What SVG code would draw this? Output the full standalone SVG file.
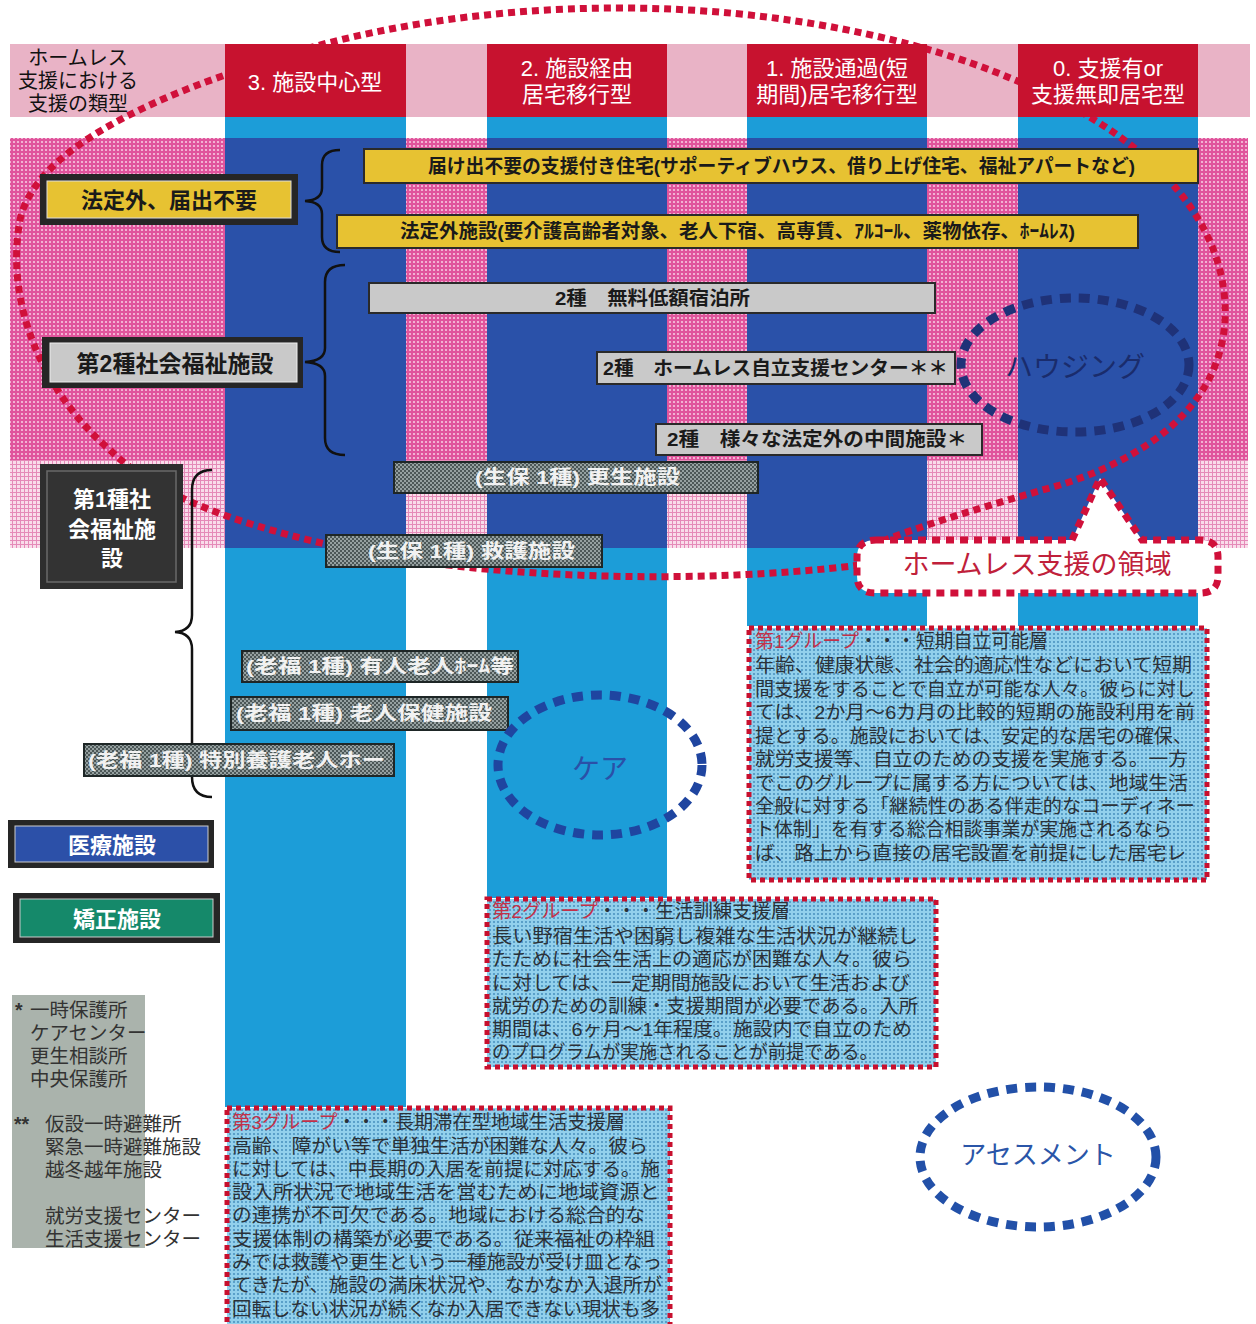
<svg xmlns="http://www.w3.org/2000/svg" width="1256" height="1324" viewBox="0 0 1256 1324">
<defs>
<pattern id="pinkDots" width="4" height="4" patternUnits="userSpaceOnUse"><rect width="4" height="4" fill="#e0549c"/><circle cx="2" cy="2" r="1.1" fill="#f7c8e0"/></pattern>
<pattern id="pinkGrid" width="4" height="4" patternUnits="userSpaceOnUse"><rect width="4" height="4" fill="#f9dcea"/><path d="M0 .5H4M.5 0V4" stroke="#e58ab8" stroke-width="1"/></pattern>
<pattern id="checker" width="4" height="4" patternUnits="userSpaceOnUse"><rect width="4" height="4" fill="#4c5757"/><rect width="2" height="2" fill="#95a0a0"/><rect x="2" y="2" width="2" height="2" fill="#95a0a0"/></pattern>
<pattern id="boxDots" width="4" height="4" patternUnits="userSpaceOnUse"><rect width="4" height="4" fill="#92d0ec"/><circle cx="2" cy="2" r="0.9" fill="#3f88b8"/></pattern>
<style>
text{font-family:"Liberation Sans","Noto Sans CJK JP",sans-serif}
.hdr{fill:#fff;font-size:22px;text-anchor:middle}
.barY{fill:#e7c232;stroke:#2a2a2a;stroke-width:2}
.barG{fill:#c9c9c9;stroke:#2a2a2a;stroke-width:2}
.barD{fill:url(#checker);stroke:#1e2626;stroke-width:2}
.tb{font-weight:700;font-size:19px;fill:#1a1a1a}
.tw{font-weight:700;font-size:19px;fill:#f2f2f2}
.brace{fill:none;stroke:#111;stroke-width:2.5}
.frame{fill:#262626}
.gbox{fill:url(#boxDots);stroke:#c8102e;stroke-width:5;stroke-dasharray:5 4}
.gt{font-size:19px;fill:#2a3138}
.red{fill:#c23048}
.note{font-size:19.5px;fill:#333}
.bell{fill:none;stroke-width:9;stroke-dasharray:11 8}
.loop{fill:none;stroke:#d0103a;stroke-width:7;stroke-dasharray:7 5}
</style>
</defs>
<rect width="1256" height="1324" fill="#fff"/>

<g id="background">
<rect x="10" y="44" width="1240" height="73" fill="#e9b3c6"/>
<rect x="10" y="138" width="1238" height="322" fill="url(#pinkDots)"/>
<rect x="10" y="460" width="1238" height="88" fill="url(#pinkGrid)"/>
<rect x="225" y="117" width="181" height="990" fill="#1c9dd8"/>
<rect x="487" y="117" width="180" height="781" fill="#1c9dd8"/>
<rect x="747" y="117" width="180" height="509" fill="#1c9dd8"/>
<rect x="1018" y="117" width="180" height="509" fill="#1c9dd8"/>
<rect x="225" y="138" width="181" height="410" fill="#2a51a9"/>
<rect x="487" y="138" width="180" height="410" fill="#2a51a9"/>
<rect x="747" y="138" width="180" height="410" fill="#2a51a9"/>
<rect x="1018" y="138" width="180" height="410" fill="#2a51a9"/>
</g>

<g id="connectors">
<path class="loop" d="M860,565 C700,585 480,580 330,545 C220,520 150,490 110,450 C40,390 5,300 20,220 C35,150 150,100 240,70 C350,30 480,8 620,8 C780,8 920,40 1010,78 C1130,125 1230,210 1225,320 C1220,410 1140,460 1060,485 C990,505 920,525 860,550"/>
<path class="brace" d="M340,150 Q322,150 322,165 L322,188 Q322,200 305,201 Q322,202 322,214 L322,237 Q322,252 340,252"/>
<path class="brace" d="M345,265 Q325,265 325,282 L325,348 Q325,361 305,362 Q325,363 325,376 L325,438 Q325,455 345,455"/>
<path class="brace" d="M212,470 Q192,470 192,490 L192,615 Q192,631 175,632 Q192,633 192,649 L192,777 Q192,797 212,797"/>
</g>

<g id="header-title">
<text x="78" y="65" font-size="20" text-anchor="middle" fill="#111">ホームレス</text>
<text x="78" y="88" font-size="20" text-anchor="middle" fill="#111">支援における</text>
<text x="78" y="111" font-size="20" text-anchor="middle" fill="#111">支援の類型</text>
</g>
<g id="type3"><rect x="225" y="44" width="181" height="73" fill="#c7122f"/><text class="hdr" x="315" y="90">3. 施設中心型</text></g>
<g id="type2"><rect x="487" y="44" width="180" height="73" fill="#c7122f"/><text class="hdr" x="577" y="76">2. 施設経由</text><text class="hdr" x="577" y="102">居宅移行型</text></g>
<g id="type1"><rect x="747" y="44" width="180" height="73" fill="#c7122f"/><text class="hdr" x="837" y="76">1. 施設通過(短</text><text class="hdr" x="837" y="102">期間)居宅移行型</text></g>
<g id="type0"><rect x="1018" y="44" width="180" height="73" fill="#c7122f"/><text class="hdr" x="1108" y="76">0. 支援有or</text><text class="hdr" x="1108" y="102">支援無即居宅型</text></g>

<g id="label-hotei"><rect class="frame" x="40" y="174" width="258" height="51"/><rect x="47" y="181" width="244" height="37" fill="#e7c232" stroke="#ddd" stroke-width="1"/><text x="169" y="208" font-size="22" font-weight="700" text-anchor="middle" fill="#1a1a1a">法定外、届出不要</text></g>
<g id="label-2shu"><rect class="frame" x="42" y="337" width="261" height="51"/><rect x="50" y="343" width="247" height="39" fill="#c9c9c9" stroke="#eee" stroke-width="1"/><text x="175" y="372" font-size="23" font-weight="700" text-anchor="middle" fill="#1a1a1a">第2種社会福祉施設</text></g>
<g id="label-1shu"><rect x="40" y="464" width="143" height="125" fill="#2e2e2e"/><rect x="47" y="471" width="129" height="111" fill="#333" stroke="#6a6a6a" stroke-width="1.5"/><text x="112" y="507" font-size="22" font-weight="700" text-anchor="middle" fill="#fff">第1種社</text><text x="112" y="537" font-size="22" font-weight="700" text-anchor="middle" fill="#fff">会福祉施</text><text x="112" y="566" font-size="22" font-weight="700" text-anchor="middle" fill="#fff">設</text></g>

<g id="bar-todokede"><rect class="barY" x="364" y="149" width="834" height="34"/><text class="tb" x="428" y="173" textLength="707" lengthAdjust="spacingAndGlyphs">届け出不要の支援付き住宅(サポーティブハウス、借り上げ住宅、福祉アパートなど)</text></g>
<g id="bar-hoteigai"><rect class="barY" x="337" y="215" width="801" height="33"/><text class="tb" x="400" y="238" textLength="675" lengthAdjust="spacingAndGlyphs">法定外施設(要介護高齢者対象、老人下宿、高専賃、ｱﾙｺｰﾙ、薬物依存、ﾎｰﾑﾚｽ)</text></g>
<g id="bar-muryo"><rect class="barG" x="369" y="283" width="566" height="30"/><text class="tb" x="555" y="305" textLength="195" lengthAdjust="spacingAndGlyphs">2種　無料低額宿泊所</text></g>
<g id="bar-jiritsu"><rect class="barG" x="597" y="352" width="358" height="32"/><text class="tb" x="603" y="375" textLength="345" lengthAdjust="spacingAndGlyphs">2種　ホームレス自立支援センター＊＊</text></g>
<g id="bar-chukan"><rect class="barG" x="656" y="424" width="326" height="31"/><text class="tb" x="667" y="446" textLength="300" lengthAdjust="spacingAndGlyphs">2種　様々な法定外の中間施設＊</text></g>
<g id="bar-kosei"><rect class="barD" x="394" y="462" width="364" height="31"/><text class="tw" x="475" y="484" textLength="205" lengthAdjust="spacingAndGlyphs">(生保 1種) 更生施設</text></g>
<g id="bar-kyugo"><rect class="barD" x="326" y="535" width="276" height="32"/><text class="tw" x="368" y="558" textLength="207" lengthAdjust="spacingAndGlyphs">(生保 1種) 救護施設</text></g>
<g id="bar-yujin"><rect class="barD" x="242" y="651" width="276" height="31"/><text class="tw" x="246" y="673" textLength="268" lengthAdjust="spacingAndGlyphs">(老福 1種) 有人老人ﾎｰﾑ等</text></g>
<g id="bar-hoken"><rect class="barD" x="231" y="697" width="277" height="33"/><text class="tw" x="236" y="720" textLength="256" lengthAdjust="spacingAndGlyphs">(老福 1種) 老人保健施設</text></g>
<g id="bar-tokuyo"><rect class="barD" x="84" y="744" width="310" height="32"/><text class="tw" x="88" y="767" textLength="297" lengthAdjust="spacingAndGlyphs">(老福 1種) 特別養護老人ホー</text></g>

<g id="label-iryo"><rect class="frame" x="8" y="820" width="206" height="48"/><rect x="15" y="826" width="193" height="36" fill="#2c50a8" stroke="#ccc" stroke-width="1"/><text x="112" y="853" font-size="22" font-weight="700" text-anchor="middle" fill="#fff">医療施設</text></g>
<g id="label-kyosei"><rect class="frame" x="13" y="893" width="207" height="50"/><rect x="20" y="899" width="193" height="38" fill="#15896a" stroke="#ccc" stroke-width="1"/><text x="117" y="927" font-size="22" font-weight="700" text-anchor="middle" fill="#fff">矯正施設</text></g>

<g id="notes">
<rect x="12" y="995" width="133" height="253" fill="#aab3ac"/>
<text class="note" x="15" y="1017" font-weight="700">*</text>
<text class="note" x="30" y="1017">一時保護所</text>
<text class="note" x="30" y="1040">ケアセンター</text>
<text class="note" x="30" y="1063">更生相談所</text>
<text class="note" x="30" y="1086">中央保護所</text>
<text class="note" x="14" y="1131" font-weight="700">**</text>
<text class="note" x="45" y="1131">仮設一時避難所</text>
<text class="note" x="45" y="1154">緊急一時避難施設</text>
<text class="note" x="45" y="1177">越冬越年施設</text>
<text class="note" x="45" y="1223">就労支援センター</text>
<text class="note" x="45" y="1246">生活支援センター</text>
</g>

<g id="housing"><ellipse class="bell" cx="1075" cy="365" rx="114" ry="67" stroke="#1f3278"/><text x="1075" y="377" font-size="28" text-anchor="middle" fill="#1a2c6c">ハウジング</text></g>
<g id="care"><ellipse class="bell" cx="600" cy="765" rx="102" ry="70" stroke="#1f45a0"/><text x="600" y="779" font-size="28" text-anchor="middle" fill="#2a50a8">ケア</text></g>
<g id="assessment"><ellipse class="bell" cx="1038" cy="1157" rx="118" ry="70" stroke="#2250a8"/><text x="1038" y="1164" font-size="26" text-anchor="middle" fill="#2a55a8">アセスメント</text></g>

<g id="group1">
<rect class="gbox" x="749" y="628" width="458" height="252"/>
<text class="gt" x="755" y="648" textLength="293" lengthAdjust="spacingAndGlyphs"><tspan class="red">第1グループ</tspan>・・・短期自立可能層</text>
<text class="gt" x="755" y="672" textLength="437" lengthAdjust="spacingAndGlyphs">年齢、健康状態、社会的適応性などにおいて短期</text>
<text class="gt" x="755" y="696" textLength="440" lengthAdjust="spacingAndGlyphs">間支援をすることで自立が可能な人々。彼らに対し</text>
<text class="gt" x="755" y="719" textLength="440" lengthAdjust="spacingAndGlyphs">ては、2か月〜6カ月の比較的短期の施設利用を前</text>
<text class="gt" x="755" y="743" textLength="437" lengthAdjust="spacingAndGlyphs">提とする。施設においては、安定的な居宅の確保、</text>
<text class="gt" x="755" y="766" textLength="433" lengthAdjust="spacingAndGlyphs">就労支援等、自立のための支援を実施する。一方</text>
<text class="gt" x="755" y="790" textLength="433" lengthAdjust="spacingAndGlyphs">でこのグループに属する方については、地域生活</text>
<text class="gt" x="755" y="813" textLength="440" lengthAdjust="spacingAndGlyphs">全般に対する「継続性のある伴走的なコーディネー</text>
<text class="gt" x="755" y="836" textLength="417" lengthAdjust="spacingAndGlyphs">ト体制」を有する総合相談事業が実施されるなら</text>
<text class="gt" x="755" y="860" textLength="431" lengthAdjust="spacingAndGlyphs">ば、路上から直接の居宅設置を前提にした居宅レ</text>
</g>

<g id="group2">
<rect class="gbox" x="487" y="899" width="449" height="168"/>
<text class="gt" x="492" y="918" textLength="298" lengthAdjust="spacingAndGlyphs"><tspan class="red">第2グループ</tspan>・・・生活訓練支援層</text>
<text class="gt" x="492" y="943" textLength="426" lengthAdjust="spacingAndGlyphs">長い野宿生活や困窮し複雑な生活状況が継続し</text>
<text class="gt" x="492" y="966" textLength="420" lengthAdjust="spacingAndGlyphs">たために社会生活上の適応が困難な人々。彼ら</text>
<text class="gt" x="492" y="990" textLength="418" lengthAdjust="spacingAndGlyphs">に対しては、一定期間施設において生活および</text>
<text class="gt" x="492" y="1013" textLength="426" lengthAdjust="spacingAndGlyphs">就労のための訓練・支援期間が必要である。入所</text>
<text class="gt" x="492" y="1036" textLength="420" lengthAdjust="spacingAndGlyphs">期間は、6ヶ月〜1年程度。施設内で自立のため</text>
<text class="gt" x="492" y="1059" textLength="386" lengthAdjust="spacingAndGlyphs">のプログラムが実施されることが前提である。</text>
</g>

<g id="group3">
<rect class="gbox" x="227" y="1108" width="443" height="222"/>
<text class="gt" x="232" y="1129" textLength="393" lengthAdjust="spacingAndGlyphs"><tspan class="red">第3グループ</tspan>・・・長期滞在型地域生活支援層</text>
<text class="gt" x="232" y="1153" textLength="416" lengthAdjust="spacingAndGlyphs">高齢、障がい等で単独生活が困難な人々。彼ら</text>
<text class="gt" x="232" y="1176" textLength="428" lengthAdjust="spacingAndGlyphs">に対しては、中長期の入居を前提に対応する。施</text>
<text class="gt" x="232" y="1199" textLength="428" lengthAdjust="spacingAndGlyphs">設入所状況で地域生活を営むために地域資源と</text>
<text class="gt" x="232" y="1222" textLength="413" lengthAdjust="spacingAndGlyphs">の連携が不可欠である。地域における総合的な</text>
<text class="gt" x="232" y="1246" textLength="423" lengthAdjust="spacingAndGlyphs">支援体制の構築が必要である。従来福祉の枠組</text>
<text class="gt" x="232" y="1269" textLength="430" lengthAdjust="spacingAndGlyphs">みでは救護や更生という一種施設が受け皿となっ</text>
<text class="gt" x="232" y="1292" textLength="430" lengthAdjust="spacingAndGlyphs">てきたが、施設の満床状況や、なかなか入退所が</text>
<text class="gt" x="232" y="1316" textLength="428" lengthAdjust="spacingAndGlyphs">回転しない状況が続くなか入居できない現状も多</text>
</g>

<g id="callout">
<path d="M876,540 L1072,540 L1100,478 L1142,540 L1200,540 Q1218,540 1218,557 L1218,576 Q1218,593 1200,593 L875,593 Q857,593 857,576 L857,557 Q857,540 876,540 Z" fill="#fff" stroke="#d0103a" stroke-width="7" stroke-dasharray="8 6"/>
<text x="1037" y="574" font-size="27" text-anchor="middle" fill="#c0203a">ホームレス支援の領域</text>
</g>
</svg>
